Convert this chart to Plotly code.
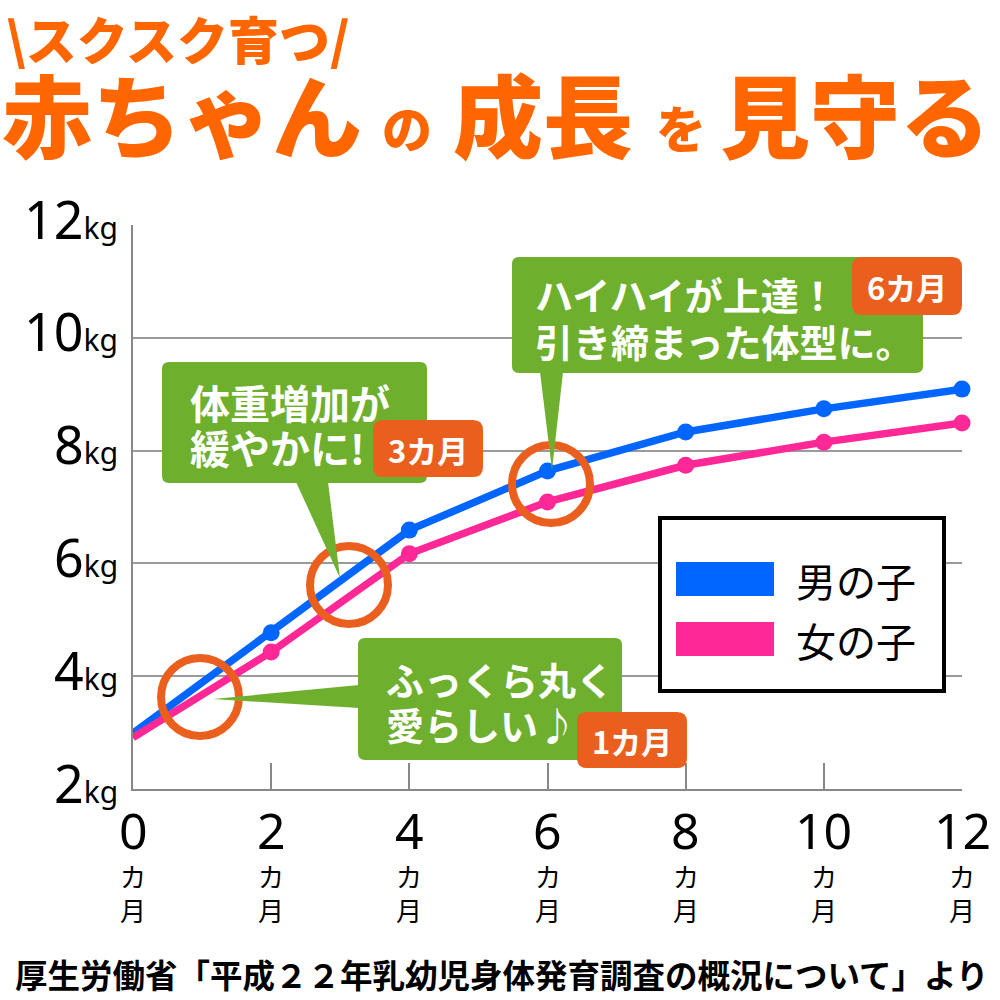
import plotly.graph_objects as go

# ---------------- data ----------------
months = [0, 2, 4, 6, 8, 10, 12]
boys = [2.99, 4.77, 6.59, 7.64, 8.33, 8.74, 9.09]
girls = [2.91, 4.43, 6.17, 7.09, 7.74, 8.15, 8.49]
series_names = ["男の子", "女の子"]
series_colors = ["#0066FF", "#FF2896"]
y_ticks = [2, 4, 6, 8, 10, 12]
x_ticks = [0, 2, 4, 6, 8, 10, 12]

title_small = "\\スクスク育つ/"
footer = "厚生労働省「平成２２年乳幼児身体発育調査の概況について」より"

JP = "Noto Sans CJK JP"
ORANGE = "#FF6600"
BADGE = "#EB5F1E"
GREEN = "#6FAF2E"

# plot area in pixels
L, R, T, B = 133, 962, 225, 789


def fx(p):
    return (p - L) / (R - L)


def fy(p):
    return (B - p) / (B - T)


def pt(x, y):
    return f"{fx(x):.5f},{fy(y):.5f}"


def rrect(x0, y0, x1, y1, r):
    return (f"M {pt(x0 + r, y0)} L {pt(x1 - r, y0)} Q {pt(x1, y0)} {pt(x1, y0 + r)} "
            f"L {pt(x1, y1 - r)} Q {pt(x1, y1)} {pt(x1 - r, y1)} "
            f"L {pt(x0 + r, y1)} Q {pt(x0, y1)} {pt(x0, y1 - r)} "
            f"L {pt(x0, y0 + r)} Q {pt(x0, y0)} {pt(x0 + r, y0)} Z")


def tri(a, b, c):
    return f"M {pt(*a)} L {pt(*b)} L {pt(*c)} Z"


fig = go.Figure()
for name, vals, col in zip(series_names, [boys, girls], series_colors):
    fig.add_trace(go.Scatter(
        x=months, y=vals, name=name, mode="lines",
        line=dict(color=col, width=7.5),
        cliponaxis=False, showlegend=False, hoverinfo="skip"))
for name, vals, col in zip(series_names, [boys, girls], series_colors):
    fig.add_trace(go.Scatter(
        x=months[1:], y=vals[1:], name=name, mode="markers",
        marker=dict(color=col, size=17, opacity=1, line=dict(width=0)),
        cliponaxis=False, showlegend=False, hoverinfo="skip"))

shapes = []
# highlight rings
for cx, cy in [(200, 697), (349, 585), (551, 484)]:
    r = 39
    shapes.append(dict(type="circle", xref="paper", yref="paper",
                       x0=fx(cx - r), x1=fx(cx + r), y0=fy(cy + r), y1=fy(cy - r),
                       line=dict(color=BADGE, width=8), layer="above"))

# callout boxes
callouts = [
    dict(box=(162, 362, 427, 483), ptr=((296, 482), (328, 482), (340, 578)),
         badge=(373, 420, 483, 477)),
    dict(box=(512, 257, 923, 373), ptr=((540, 372), (563, 372), (552, 470)),
         badge=(852, 257, 962, 315)),
    dict(box=(358, 638, 622, 760), ptr=((359, 685), (359, 708), (213, 699)),
         badge=(577, 712, 687, 768)),
]
for c in callouts:
    shapes.append(dict(type="path", xref="paper", yref="paper", path=tri(*c["ptr"]),
                       fillcolor=GREEN, line=dict(width=0), layer="above"))
    shapes.append(dict(type="path", xref="paper", yref="paper", path=rrect(*c["box"], 7),
                       fillcolor=GREEN, line=dict(width=0), layer="above"))
for c in callouts:
    shapes.append(dict(type="path", xref="paper", yref="paper", path=rrect(*c["badge"], 10),
                       fillcolor=BADGE, line=dict(width=0), layer="above"))

# legend box
shapes.append(dict(type="rect", xref="paper", yref="paper",
                   x0=fx(660), x1=fx(944), y0=fy(691), y1=fy(518),
                   fillcolor="white", line=dict(color="black", width=4), layer="above"))
for i, col in enumerate(series_colors):
    y0 = 562 + i * 60
    shapes.append(dict(type="rect", xref="paper", yref="paper",
                       x0=fx(676), x1=fx(774), y0=fy(y0 + 34), y1=fy(y0),
                       fillcolor=col, line=dict(width=0), layer="above"))

ann = []


def text(x, y, s, size, color="black", family=JP, weight="normal", xanchor="left", yanchor="middle", xref="paper", yref="paper"):
    ann.append(dict(x=x, y=y, xref=xref, yref=yref, text=s, showarrow=False,
                    xanchor=xanchor, yanchor=yanchor,
                    font=dict(family=family, size=size, color=color, weight=weight)))


# title
text(fx(4), fy(38), title_small, 51, ORANGE, weight=900)
text(fx(0), fy(112), "赤ちゃん", 90, ORANGE, weight=900)
text(fx(380), fy(126), "の", 50, ORANGE, weight=900)
text(fx(451), fy(112), "成長", 90, ORANGE, weight=900)
text(fx(654), fy(126), "を", 50, ORANGE, weight=900)
text(fx(718), fy(112), "見守る", 90, ORANGE, weight=900)

# y tick labels
for v in y_ticks:
    ann.append(dict(x=fx(120), y=v, xref="paper", yref="y", yshift=7,
                    text=f"{v}<span style='font-size:30px'>kg</span>", showarrow=False,
                    xanchor="right", yanchor="middle",
                    font=dict(family="Noto Sans", size=52, color="black")))
# x tick labels
for v in x_ticks:
    ann.append(dict(x=v, y=fy(830), xref="x", yref="paper", text=str(v), showarrow=False,
                    xanchor="center", yanchor="middle",
                    font=dict(family="Noto Sans", size=50, color="black")))
    ann.append(dict(x=v, y=fy(892), xref="x", yref="paper", text="カ<br>月", showarrow=False,
                    xanchor="center", yanchor="middle",
                    font=dict(family=JP, size=26, color="black")))

# callout texts
text(fx(188), fy(402), "体重増加が", 40, "white", weight="bold")
text(fx(188), fy(447), "緩やかに!", 40, "white", weight="bold")
text(fx(533), fy(293), "ハイハイが上達！", 38, "white", weight="bold")
text(fx(533), fy(340), "引き締まった体型に。", 38, "white", weight="bold")
text(fx(384), fy(678), "ふっくら丸く", 38, "white", weight="bold")
text(fx(384), fy(723), "愛らしい♪", 38, "white", weight="bold")
text(fx(428), fy(449), "3カ月", 31, "white", weight="bold", xanchor="center")
text(fx(907), fy(286), "6カ月", 31, "white", weight="bold", xanchor="center")
text(fx(632), fy(740), "1カ月", 31, "white", weight="bold", xanchor="center")

# legend texts
for i, nm in enumerate(series_names):
    text(fx(794), fy(580 + i * 60), nm, 40, "black")

# footer
text(fx(501), fy(973), footer, 32.5, "black", weight="bold", xanchor="center")

fig.update_layout(
    width=1000, height=1000,
    margin=dict(l=L, r=1000 - R, t=T, b=1000 - B, pad=0),
    paper_bgcolor="white", plot_bgcolor="white",
    showlegend=False,
    shapes=shapes, annotations=ann,
    xaxis=dict(range=[0, 12], showgrid=False, zeroline=False, showline=True,
               linecolor="#888888", linewidth=2, ticks="inside", ticklen=26,
               tickwidth=2, tickcolor="#888888", tickvals=x_ticks[1:], showticklabels=False,
               fixedrange=True),
    yaxis=dict(range=[2, 12], showgrid=True, gridcolor="#9A9A9A", gridwidth=1.5,
               zeroline=False, showline=True, linecolor="#888888", linewidth=2,
               tickvals=y_ticks[1:], showticklabels=False, ticks="", fixedrange=True),
)

fig.write_html("out.html")
